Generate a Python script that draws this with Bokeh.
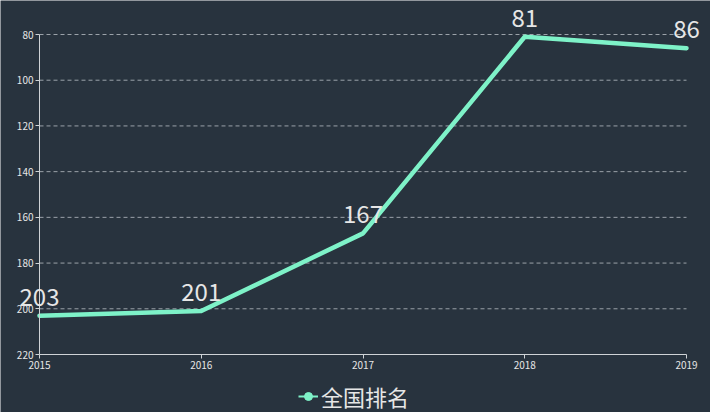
from bokeh.plotting import figure
from bokeh.models import Range1d, FixedTicker, Label, Legend, LegendItem, ColumnDataSource
from bokeh.embed import file_html
from bokeh.resources import INLINE

years = [2015, 2016, 2017, 2018, 2019]
ranks = [203, 201, 167, 81, 86]
y_ticks = [80, 100, 120, 140, 160, 180, 200, 220]
series_name = "全国排名"

BG = "#28333e"
LINE = "#7ef2c8"
TXT = "#e6e6e6"
AX = "#cfd3d6"
FONT = "Noto Sans CJK SC"

W, H = 710, 412
# plot area in pixels inside the figure (frame covers whole figure, axes pinned inside)
L, R, T, B = 39, 686, 34, 354
x0, x1 = years[0], years[-1]
y0, y1 = y_ticks[0], y_ticks[-1]
sx = (R - L) / (x1 - x0)
sy = (B - T) / (y1 - y0)

p = figure(width=W, height=H, output_backend="svg", toolbar_location=None,
           x_range=Range1d(x0 - L / sx, x1 + (W - R) / sx),
           y_range=Range1d(y1 + (H - B) / sy, y0 - T / sy),
           min_border_left=0, min_border_right=0, min_border_top=0, min_border_bottom=0)
p.background_fill_color = BG
p.border_fill_color = BG
p.outline_line_color = None
p.xgrid.visible = False
p.ygrid.visible = False

# horizontal dashed grid lines limited to the plot area
grid_y = y_ticks[:-1]
p.segment(x0=[x0] * len(grid_y), y0=grid_y, x1=[x1] * len(grid_y), y1=grid_y,
          line_color="#b8bec4", line_dash="4 3", line_width=1, line_alpha=0.8)

src = ColumnDataSource(dict(x=years, y=ranks))
r_line = p.line("x", "y", source=src, line_color=LINE, line_width=4.5, line_join="round", line_cap="round")

p.xaxis.ticker = FixedTicker(ticks=years)
p.xaxis.major_label_overrides = {y: str(y) for y in years}
p.xaxis.fixed_location = y1
p.xaxis.bounds = (x0, x1)
p.yaxis.ticker = FixedTicker(ticks=y_ticks)
p.yaxis.fixed_location = x0
p.yaxis.bounds = (y0, y1)
for ax in (p.xaxis[0], p.yaxis[0]):
    ax.axis_line_color = AX
    ax.axis_line_width = 1
    ax.major_tick_line_color = AX
    ax.major_tick_out = 4
    ax.major_tick_in = 0
    ax.minor_tick_line_color = None
    ax.major_label_text_color = TXT
    ax.major_label_text_font = FONT
    ax.major_label_text_font_size = "10px"
    ax.major_label_standoff = 2

for xv, yv in zip(years, ranks):
    p.add_layout(Label(x=xv, y=yv, text=str(yv), text_align="center",
                       text_baseline="bottom", y_offset=10, text_color=TXT,
                       text_font=FONT, text_font_size="24px"))

l_dot = p.scatter([years[0]], [ranks[0]], size=11, color=LINE, visible=False)
l_line = p.line([years[0]], [ranks[0]], line_color=LINE, line_width=2, visible=False)
legend = Legend(items=[LegendItem(label=series_name, renderers=[l_line, l_dot])],
                location=(296, -2), orientation="horizontal",
                background_fill_alpha=0, border_line_alpha=0,
                label_text_color=TXT, label_text_font=FONT, label_text_font_size="22px",
                label_height=20, glyph_width=20, glyph_height=20, label_standoff=3,
                padding=2, margin=0)
p.add_layout(legend)

html = file_html(p, INLINE)
html = html.replace("<body>", '<body style="background:%s">' % BG, 1)
open("out.html", "w").write(html)
